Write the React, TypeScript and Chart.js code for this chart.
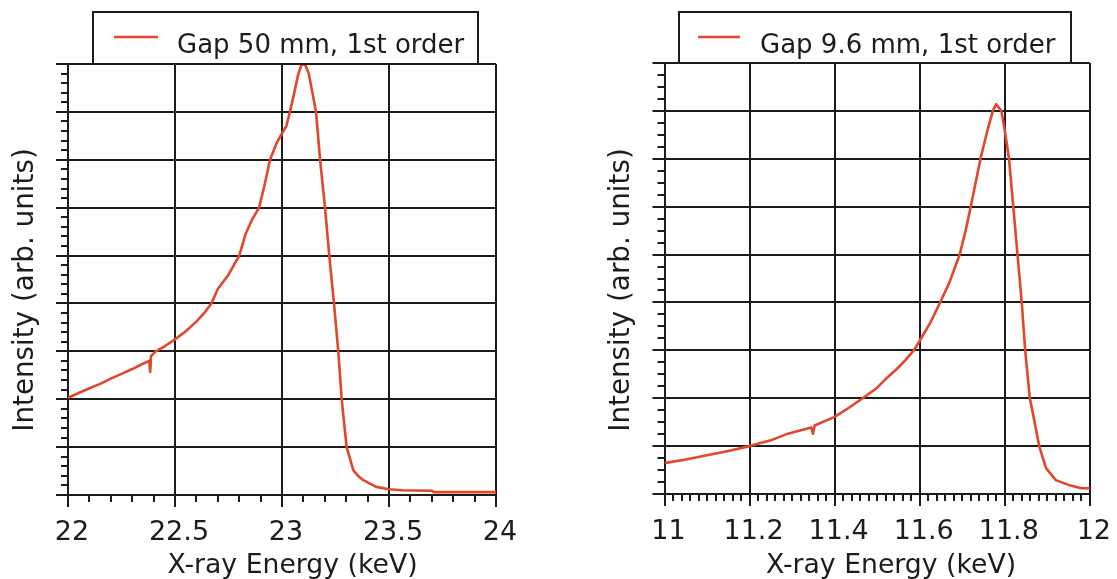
import React, { useEffect, useRef } from "react";
import { Chart, registerables } from "chart.js";

Chart.register(...registerables);

// ---------- data ----------
const leftEnergy = [
  22.0, 22.05, 22.1, 22.15, 22.2, 22.25, 22.3, 22.35, 22.38, 22.384, 22.388, 22.41,
  22.45, 22.5, 22.55, 22.6, 22.64, 22.67, 22.7, 22.75, 22.8, 22.83, 22.86, 22.893,
  22.92, 22.944, 22.975, 23.0, 23.02, 23.037, 23.055, 23.075, 23.09, 23.1, 23.11,
  23.125, 23.14, 23.159, 23.178, 23.201, 23.221, 23.243, 23.263, 23.279, 23.302,
  23.315, 23.333, 23.36, 23.38, 23.44, 23.5, 23.56, 23.7, 23.71, 24.0,
];
const leftIntensity = [
  2.03, 2.13, 2.23, 2.32, 2.43, 2.53, 2.63, 2.74, 2.8, 2.57, 2.9, 3.0,
  3.1, 3.25, 3.42, 3.62, 3.82, 4.0, 4.3, 4.6, 5.0, 5.45, 5.75, 6.0,
  6.5, 7.0, 7.35, 7.55, 7.7, 8.0, 8.35, 8.77, 8.97, 9.0, 8.97,
  8.8, 8.45, 8.0, 7.0, 6.0, 5.0, 4.0, 3.0, 2.0, 1.0,
  0.8, 0.52, 0.38, 0.31, 0.17, 0.12, 0.1, 0.09, 0.06, 0.06,
];

const rightEnergy = [
  11.0, 11.05, 11.094, 11.15, 11.2, 11.25, 11.29, 11.345, 11.349, 11.353, 11.4,
  11.43, 11.466, 11.5, 11.52, 11.545, 11.566, 11.586, 11.6, 11.625, 11.648, 11.67,
  11.694, 11.708, 11.72, 11.743, 11.758, 11.772, 11.78, 11.792, 11.8, 11.81, 11.82,
  11.83, 11.84, 11.848, 11.859, 11.868, 11.881, 11.897, 11.92, 11.95, 11.98, 12.0,
];
const rightIntensity = [
  0.645, 0.72, 0.8, 0.9, 1.0, 1.12, 1.26, 1.39, 1.26, 1.43, 1.61,
  1.78, 2.0, 2.22, 2.4, 2.6, 2.79, 3.0, 3.2, 3.58, 4.0, 4.42,
  5.0, 5.5, 6.0, 7.0, 7.55, 8.0, 8.14, 8.0, 7.6, 7.0, 6.0,
  5.0, 4.0, 3.0, 2.0, 1.6, 1.0, 0.54, 0.29, 0.19, 0.12, 0.12,
];

const leftLabel = "Gap 50 mm, 1st order";
const rightLabel = "Gap 9.6 mm, 1st order";
const xTitle = "X-ray Energy (keV)";
const yTitle = "Intensity (arb. units)";

// ---------- style ----------
const INK = "#1c1c1c";
const LINE = "#e2462b";
const FONT = "'DejaVu Sans', 'Liberation Sans', sans-serif";

const decorPlugin = {
  id: "decor",
  afterDraw(chart: any, _args: any, opts: any) {
    const ctx = chart.ctx;
    const xs = chart.scales.x;
    const ys = chart.scales.y;
    ctx.save();
    ctx.strokeStyle = INK;
    ctx.lineWidth = 2;
    // minor x ticks
    const nx = Math.round((xs.max - xs.min) / opts.xMinor);
    for (let i = 0; i <= nx; i++) {
      const px = Math.round(xs.getPixelForValue(xs.min + i * opts.xMinor));
      ctx.beginPath();
      ctx.moveTo(px, ys.bottom);
      ctx.lineTo(px, ys.bottom + opts.minorLen);
      ctx.stroke();
    }
    // minor y ticks
    const ny = Math.round((ys.max - ys.min) / opts.yMinor);
    for (let i = 0; i <= ny; i++) {
      const py = Math.round(ys.getPixelForValue(ys.min + i * opts.yMinor));
      ctx.beginPath();
      ctx.moveTo(xs.left - opts.minorLen, py);
      ctx.lineTo(xs.left, py);
      ctx.stroke();
    }
    // axis titles
    ctx.fillStyle = INK;
    ctx.textAlign = "center";
    ctx.textBaseline = "alphabetic";
    ctx.font = `${opts.xTitleSize}px ${FONT}`;
    ctx.fillText(xTitle, opts.xTitleX, opts.xTitleY);
    ctx.save();
    ctx.translate(opts.yTitleX, opts.yTitleY);
    ctx.rotate(-Math.PI / 2);
    ctx.font = `${opts.yTitleSize}px ${FONT}`;
    ctx.fillText(yTitle, 0, 0);
    ctx.restore();
    // legend box
    const b = opts.box;
    ctx.fillStyle = "#ffffff";
    ctx.fillRect(b.left, b.top, b.right - b.left, b.bottom - b.top);
    ctx.strokeStyle = INK;
    ctx.lineWidth = 2;
    ctx.strokeRect(b.left, b.top, b.right - b.left, b.bottom - b.top);
    ctx.strokeStyle = LINE;
    ctx.lineWidth = 2.5;
    ctx.beginPath();
    ctx.moveTo(b.sampleX0, b.sampleY);
    ctx.lineTo(b.sampleX1, b.sampleY);
    ctx.stroke();
    ctx.fillStyle = INK;
    ctx.font = `${opts.legendSize}px ${FONT}`;
    ctx.textBaseline = "alphabetic";
    ctx.textAlign = "left";
    ctx.fillText(chart.data.datasets[0].label, b.textX, b.textY);
    ctx.restore();
  },
};

const fmt = (v: any) => String(Number(Number(v).toFixed(2)));

function makeConfig(
  label: string,
  xs: number[],
  ys: number[],
  xMin: number,
  xMax: number,
  xStep: number,
  cfg: any
) {
  return {
    type: "line" as const,
    data: {
      datasets: [
        {
          label,
          data: xs.map((x, i) => ({ x, y: ys[i] })),
          borderColor: LINE,
          borderWidth: 2.6,
          pointRadius: 0,
          tension: 0,
          fill: false,
          borderJoinStyle: "round" as const,
        },
      ],
    },
    options: {
      responsive: false,
      animation: false,
      layout: { padding: cfg.padding },
      plugins: {
        legend: { display: false },
        tooltip: { enabled: false },
        decor: cfg.decor,
      },
      scales: {
        x: {
          type: "linear",
          min: xMin,
          max: xMax,
          afterFit: (s: any) => {
            s.height = cfg.xHeight;
          },
          ticks: {
            stepSize: xStep,
            autoSkip: false,
            maxRotation: 0,
            color: INK,
            padding: 10,
            labelOffset: 4,
            callback: fmt,
            font: { family: FONT, size: 27 },
          },
          grid: { color: INK, lineWidth: 2, tickLength: 12, drawTicks: true },
          border: { display: true, color: INK, width: 2 },
          title: { display: false },
        },
        y: {
          min: 0,
          max: 9,
          afterFit: (s: any) => {
            s.width = cfg.yWidth;
          },
          ticks: { stepSize: 1, display: false },
          grid: { color: INK, lineWidth: 2, tickLength: 12, drawTicks: true },
          border: { display: true, color: INK, width: 2 },
          title: { display: false },
        },
      },
    },
    plugins: [decorPlugin],
  };
}

function ChartCanvas({ config, width, height }: any) {
  const ref = useRef<HTMLCanvasElement>(null);
  useEffect(() => {
    if (!ref.current) return;
    const chart = new Chart(ref.current, config);
    return () => chart.destroy();
  }, []);
  return (
    <canvas
      ref={ref}
      width={width}
      height={height}
      style={{ display: "block", width, height }}
    />
  );
}

export default function App() {
  const leftCfg = makeConfig(leftLabel, leftEnergy, leftIntensity, 22, 24, 0.5, {
    padding: { left: 0, right: 64, top: 64, bottom: 0 },
    xHeight: 84,
    yWidth: 68,
    decor: {
      xMinor: 0.1,
      yMinor: 0.2,
      minorLen: 7,
      legendSize: 26,
      xTitleSize: 26.7,
      xTitleX: 292.5,
      xTitleY: 573,
      yTitleSize: 27.8,
      yTitleX: 33,
      yTitleY: 290,
      box: {
        left: 93, top: 12, right: 478, bottom: 64,
        sampleX0: 114, sampleX1: 158, sampleY: 37,
        textX: 177, textY: 53,
      },
    },
  });
  const rightCfg = makeConfig(rightLabel, rightEnergy, rightIntensity, 11, 12, 0.2, {
    padding: { left: 0, right: 22.5, top: 63, bottom: 0 },
    xHeight: 85,
    yWidth: 104.5,
    decor: {
      xMinor: 0.02,
      yMinor: 0.25,
      minorLen: 7,
      legendSize: 26,
      xTitleSize: 26.7,
      xTitleX: 331,
      xTitleY: 573,
      yTitleSize: 27.8,
      yTitleX: 69,
      yTitleY: 290,
      box: {
        left: 119, top: 12, right: 511, bottom: 63,
        sampleX0: 138, sampleX1: 180, sampleY: 37,
        textX: 200, textY: 53,
      },
    },
  });
  return (
    <div
      style={{
        position: "absolute",
        left: 0,
        top: 0,
        width: 1117,
        height: 579,
        display: "flex",
        background: "#ffffff",
      }}
    >
      <ChartCanvas config={leftCfg} width={560} height={579} />
      <ChartCanvas config={rightCfg} width={557} height={579} />
    </div>
  );
}
